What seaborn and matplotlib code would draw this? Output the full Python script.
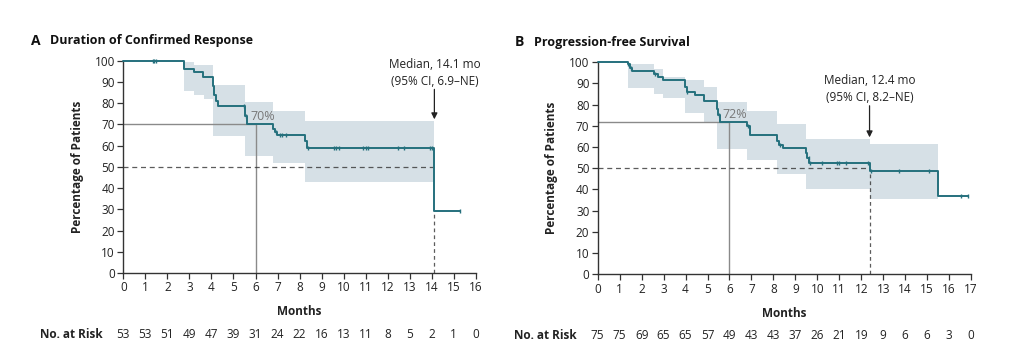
import numpy as np
import pandas as pd
import matplotlib
matplotlib.use("Agg")
import matplotlib.pyplot as plt
import seaborn as sns

sns.set_style("ticks")
plt.rcParams['font.family'] = ['Open Sans', 'DejaVu Sans']

# ---------------- Data: Panel A (Duration of Confirmed Response) ----------------
a_time = [0, 2.77, 3.23, 3.62, 4.06, 4.12, 4.2, 4.3, 5.53, 5.6, 6.79, 6.88, 6.97, 8.26, 8.34, 14.12, 15.3]
a_surv = [100, 96, 94.5, 92.5, 88, 84, 81, 78.5, 74, 70, 68, 66.5, 65, 62, 59, 29.4, 29.4]
a_censor = [1.33, 1.4, 1.47, 5.5, 5.58, 6.93, 7.1, 7.2, 7.4, 8.37, 9.55, 9.65, 9.8,
            10.9, 11.0, 11.1, 12.45, 12.75, 13.9, 14.02, 15.3]
a_ci_t = [2.77, 3.23, 3.64, 4.06, 5.53, 6.79, 8.26, 14.12]
a_ci_lo = [85.5, 84, 82, 64.5, 55, 51.7, 42.7, 42.7]
a_ci_hi = [99.5, 98, 98, 88.5, 80.7, 76.5, 71.8, 71.8]
a_risk = [53, 53, 51, 49, 47, 39, 31, 24, 22, 16, 13, 11, 8, 5, 2, 1, 0]
a_median = 14.12
a_landmark = 70

# ---------------- Data: Panel B (Progression-free Survival) ----------------
b_time = [0, 1.37, 1.45, 1.55, 2.58, 2.76, 2.99, 3.97, 4.05, 4.43, 4.84, 5.45, 5.5, 5.57,
          6.8, 6.94, 8.15, 8.25, 8.45, 9.5, 9.55, 9.62, 12.38, 15.51, 16.88]
b_surv = [100, 99, 97.5, 96, 94.3, 93, 91.6, 88.5, 86, 84.6, 81.7, 78, 75, 72,
          70, 65.7, 63, 61, 59.7, 57, 55, 52.6, 48.9, 36.9, 36.9]
b_censor = [1.4, 1.5, 2.6, 4.07, 5.52, 6.85, 8.3, 9.6, 9.68, 10.2, 10.9, 11.0, 11.3,
            12.33, 12.45, 13.73, 15.09, 16.55, 16.85]
b_ci_t = [1.37, 2.58, 2.99, 3.97, 4.84, 5.42, 6.78, 8.15, 9.49, 12.38, 15.51]
b_ci_lo = [88, 85, 83, 76, 71.5, 59, 54, 47.5, 40, 35.5, 35.5]
b_ci_hi = [99, 97, 93, 91.5, 88.5, 81.5, 77, 71, 64, 61.5, 61.5]
b_risk = [75, 75, 69, 65, 65, 57, 49, 43, 43, 37, 26, 21, 19, 9, 6, 6, 3, 0]
b_median = 12.38
b_landmark = 72

TEAL = "#25707d"
BAND = "#d6e0e6"
REF = "#8a8a8a"
DARK = "#333333"

fig = plt.figure(figsize=(10.16, 3.62), dpi=100)
axA = fig.add_axes([0.1214, 0.2459, 0.3469, 0.5864])
axB = fig.add_axes([0.5883, 0.2423, 0.3674, 0.5856])


def step_value(times, surv, t):
    idx = np.searchsorted(np.asarray(times), t, side='right') - 1
    return np.asarray(surv)[idx]


def draw_panel(ax, times, surv, censor, ci_t, ci_lo, ci_hi, risk, median, landmark,
               xmax, letter, title, med_text, arrow_top, arrow_tip, land_label_xy,
               risk_label_x):
    # CI band
    ax.fill_between(ci_t, ci_lo, ci_hi, step='post', color=BAND, lw=0, zorder=1)
    # reference lines
    ax.plot([0, 6], [landmark, landmark], color=REF, lw=1.0, zorder=2, clip_on=False)
    ax.plot([6, 6], [0, landmark], color=REF, lw=1.0, zorder=2, clip_on=False)
    ax.plot([0, median], [50, 50], color=DARK, lw=0.9, ls=(0, (4, 3)), zorder=2, alpha=0.8)
    ax.plot([median, median], [0, step_value(times, surv, median)], color=DARK, lw=0.9,
            ls=(0, (3, 2.5)), zorder=2, alpha=0.8)
    # KM curve
    df = pd.DataFrame({"time": times, "surv": surv})
    sns.lineplot(data=df, x="time", y="surv", drawstyle="steps-post", color=TEAL,
                 lw=1.4, ax=ax, zorder=3, clip_on=False, estimator=None)
    cy = [step_value(times, surv, t) for t in censor]
    ax.plot(censor, cy, ls='none', marker='|', ms=3.2, mew=1.0, color=TEAL, zorder=4,
            clip_on=False)

    ax.set_xlim(0, xmax)
    ax.set_ylim(0, 100)
    ax.set_xticks(range(0, xmax + 1))
    ax.set_yticks(range(0, 101, 10))
    ax.tick_params(axis='both', direction='out', length=4, width=0.9, color=DARK,
                   labelsize=8.5, labelcolor="#222222", pad=2)
    for s in ['left', 'bottom']:
        ax.spines[s].set_color(DARK)
        ax.spines[s].set_linewidth(1.0)
    sns.despine(ax=ax)
    ax.set_xlabel("Months", fontsize=8.5, fontweight='bold', color="#222222", labelpad=8)
    ax.set_ylabel("Percentage of Patients", fontsize=8.5, fontweight='bold',
                  color="#222222", labelpad=8)

    # title
    ax.text(letter[0], 1.095, letter[1], transform=ax.transAxes, fontsize=10,
            fontweight='bold', ha='left', va='center', color="#111111")
    ax.text(letter[2], 1.095, title, transform=ax.transAxes, fontsize=9,
            fontweight='bold', ha='left', va='center', color="#111111")

    # median annotation
    ax.annotate("", xy=(median, arrow_tip), xytext=(median, arrow_top),
                arrowprops=dict(arrowstyle='-|>', color="#222222", lw=0.9,
                                mutation_scale=9, shrinkA=0, shrinkB=0))
    ax.text(median, arrow_top + 0.8, med_text, ha='center', va='bottom', fontsize=8.5,
            color="#222222", linespacing=1.4)
    ax.text(land_label_xy[0], land_label_xy[1], f"{landmark}%", ha='left', va='center',
            fontsize=9, color="#777777")

    # number at risk
    tr = ax.get_xaxis_transform()
    ax.text(risk_label_x, -0.29, "No. at Risk", transform=tr, ha='right', va='center',
            fontsize=8.5, fontweight='bold', color="#222222")
    for i, n in enumerate(risk):
        ax.text(i, -0.29, str(n), transform=tr, ha='center', va='center', fontsize=8.5,
                color="#222222")


draw_panel(axA, a_time, a_surv, a_censor, a_ci_t, a_ci_lo, a_ci_hi, a_risk, a_median,
           a_landmark, 16, (-0.262, "A", -0.207), "Duration of Confirmed Response",
           "Median, 14.1 mo\n(95% CI, 6.9\u2013NE)", 86.5, 72.4, (5.76, 73.8), -0.93)
draw_panel(axB, b_time, b_surv, b_censor, b_ci_t, b_ci_lo, b_ci_hi, b_risk, b_median,
           b_landmark, 17, (-0.222, "B", -0.172), "Progression-free Survival",
           "Median, 12.4 mo\n(95% CI, 8.2\u2013NE)", 79.5, 64.6, (5.69, 75.5), -0.94)

fig.savefig("out.png", dpi=100)
